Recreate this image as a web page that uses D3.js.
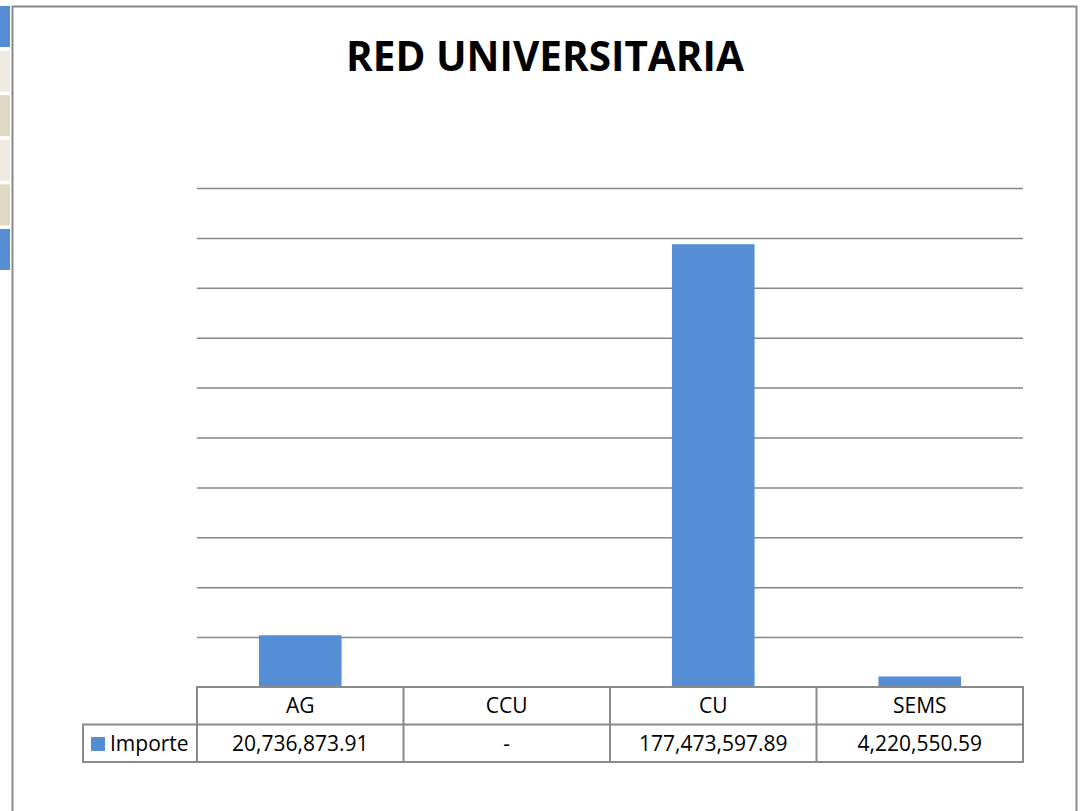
<!DOCTYPE html>
<html>
<head>
<meta charset="utf-8">
<script src="https://cdn.jsdelivr.net/npm/d3@7"></script>
<style>
  html, body { margin: 0; padding: 0; background: #ffffff; }
  svg { display: block; }
  text { font-family: "Open Sans", "Liberation Sans", sans-serif; fill: #000; }
</style>
</head>
<body>
<script>
// ---- data ----
const title = "RED UNIVERSITARIA";
const seriesName = "Importe";
const categories = ["AG", "CCU", "CU", "SEMS"];
const values = [20736873.91, 0, 177473597.89, 4220550.59];
const valueLabels = ["20,736,873.91", "-", "177,473,597.89", "4,220,550.59"];
const yTicks = [0, 20e6, 40e6, 60e6, 80e6, 100e6, 120e6, 140e6, 160e6, 180e6, 200e6];

const W = 1083, H = 811;
const svg = d3.select("body").append("svg").attr("width", W).attr("height", H);

// decorative strip on the left edge (spreadsheet tabs)
const stripColors = ["#558ed5", "#eeece1", "#ddd9c4", "#eeece1", "#ddd9c4", "#558ed5"];
const stripY = d3.scaleBand().domain(d3.range(stripColors.length)).range([6, 270]).paddingInner(0.08);
svg.selectAll("rect.strip").data(stripColors).join("rect")
  .attr("class", "strip")
  .attr("x", 0).attr("width", 10)
  .attr("y", (d, i) => stripY(i)).attr("height", stripY.bandwidth())
  .attr("fill", d => d);

// chart frame
svg.append("path")
  .attr("d", "M12.5,811 V6.5 H1076.5 V811")
  .attr("fill", "none").attr("stroke", "#8a8a8a").attr("stroke-width", 2);

// title
svg.append("text")
  .attr("x", 545).attr("y", 71)
  .attr("text-anchor", "middle")
  .attr("font-size", 40.5).attr("font-weight", "bold")
  .text(title);

// scales
const x = d3.scaleBand().domain(categories).range([197, 1023]).padding(0);
const y = d3.scaleLinear().domain([0, 200e6]).range([687, 188]);

// gridlines via axis
const grid = svg.append("g")
  .attr("transform", "translate(197,0)")
  .call(d3.axisLeft(y).tickValues(yTicks.slice(1)).tickSize(-(1023 - 197)).tickFormat(""));
grid.select(".domain").remove();
grid.selectAll(".tick line").attr("stroke", "#868686").attr("stroke-width", 1.5);

// bars
const barW = x.bandwidth() * 0.4;
svg.selectAll("rect.bar").data(categories).join("rect")
  .attr("class", "bar")
  .attr("x", d => x(d) + (x.bandwidth() - barW) / 2)
  .attr("width", barW)
  .attr("y", (d, i) => y(values[i]))
  .attr("height", (d, i) => y(0) - y(values[i]))
  .attr("fill", "#558ed5");

// data table
const rowTop = 687, rowMid = 724.5, rowBot = 762;
const legendLeft = 83;
const tbl = svg.append("g").attr("fill", "none").attr("stroke", "#8a8a8a").attr("stroke-width", 2);
tbl.append("line").attr("x1", 196).attr("x2", 1024).attr("y1", rowTop).attr("y2", rowTop);
tbl.append("line").attr("x1", legendLeft - 1).attr("x2", 1024).attr("y1", rowMid).attr("y2", rowMid);
tbl.append("line").attr("x1", legendLeft - 1).attr("x2", 1024).attr("y1", rowBot).attr("y2", rowBot);
tbl.append("line").attr("x1", legendLeft).attr("x2", legendLeft).attr("y1", rowMid).attr("y2", rowBot);
const vx = categories.map(c => x(c)).concat([x.range()[1]]);
tbl.selectAll("line.v").data(vx).join("line").attr("class", "v")
  .attr("x1", d => d).attr("x2", d => d).attr("y1", rowTop).attr("y2", rowBot);

// category labels
svg.selectAll("text.cat").data(categories).join("text")
  .attr("class", "cat")
  .attr("x", d => x(d) + x.bandwidth() / 2)
  .attr("y", 713)
  .attr("text-anchor", "middle")
  .attr("font-size", 21)
  .text(d => d);

// value labels
svg.selectAll("text.val").data(valueLabels).join("text")
  .attr("class", "val")
  .attr("x", (d, i) => x(categories[i]) + x.bandwidth() / 2)
  .attr("y", 751)
  .attr("text-anchor", "middle")
  .attr("font-size", 21)
  .text(d => d);

// legend key
svg.append("rect").attr("x", 91).attr("y", 737).attr("width", 14).attr("height", 14).attr("fill", "#558ed5");
svg.append("text").attr("x", 110).attr("y", 751).attr("font-size", 21).text(seriesName);
</script>
</body>
</html>
